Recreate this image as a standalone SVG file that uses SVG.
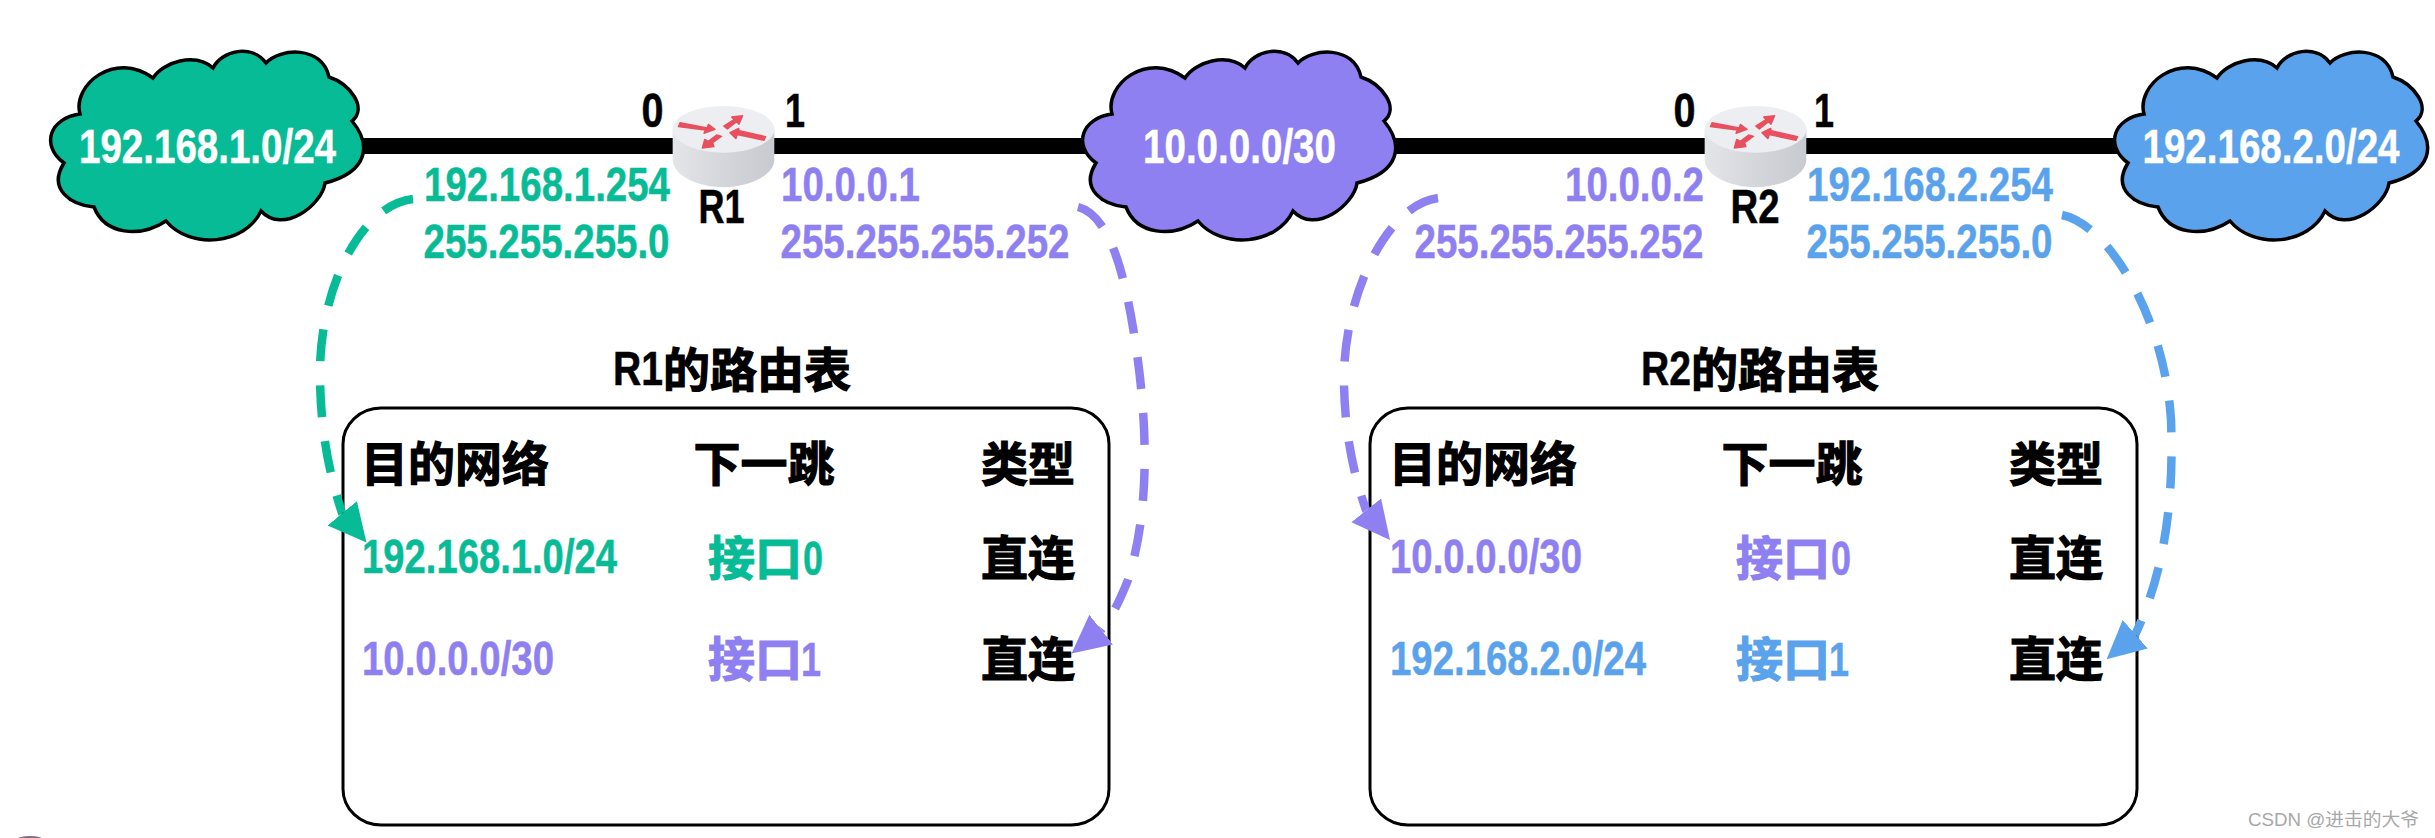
<svg xmlns="http://www.w3.org/2000/svg" xmlns:xlink="http://www.w3.org/1999/xlink" width="2435" height="838" viewBox="0 0 2435 838">
<style>
text{font-family:"Liberation Sans","Noto Sans CJK SC",sans-serif;font-weight:bold;font-size:48px}
.k{fill:#000;stroke:#000}.w{fill:#fff;stroke:#fff}.g{fill:#08bb97;stroke:#08bb97}.p{fill:#8f80f1;stroke:#8f80f1}.b{fill:#5aa3ec;stroke:#5aa3ec}
text{stroke-width:.5}
.c{font-size:47px;stroke-width:1.2}
.cloud{stroke:#000;stroke-width:3.5}
.box{fill:none;stroke:#000;stroke-width:3}
.dash{fill:none;stroke-width:8.5;stroke-dasharray:32 24}
.wm{font-family:"Liberation Sans","Noto Sans CJK SC",sans-serif;font-weight:normal;font-size:18px;fill:#a8a8a8;stroke:none}
.ra{fill:#e8505f;stroke:#e8505f;stroke-width:4;stroke-linejoin:round}
</style>
<defs>
<linearGradient id="side" x1="0" x2="1" y1="0" y2="0">
<stop offset="0" stop-color="#e4e5e8"/><stop offset=".5" stop-color="#d4d6db"/><stop offset="1" stop-color="#c8cad1"/>
</linearGradient>
<path id="cloudShape" d="M153 78C163 62 195 52 213 68C222 50 252 44 266 63C280 48 322 45 329 77C350 84 368 108 352 121C372 145 368 172 325 183C322 205 283 235 261 211C245 245 190 250 166 221C140 238 105 235 94 207C72 205 47 190 64 163C40 145 50 118 80 114C72 85 115 50 153 78Z"/>
<g id="router" transform="translate(620 70) scale(.3333)">
<path fill="url(#side)" d="M158 178V268C158 320 240 352 310 352C380 352 463 320 463 268V178Z"/>
<ellipse cx="310.500" cy="178" rx="152.500" ry="70" fill="#eceef1"/>
<g class="ra">
<polygon points="175,170 180,158 262,174 265,163 285,178 252,190 256,180"/>
<polygon points="311,168 342,149 335,141 368,137 357,163 350,155 322,177"/>
<polygon points="437,200 358,182 356,175 330,188 348,206 352,194 432,211"/>
<polygon points="290,195 305,199 278,218 282,230 247,234 254,208 265,214"/>
</g>
</g>
<marker id="aG1" markerUnits="userSpaceOnUse" markerWidth="40" markerHeight="40" refX="0" refY="20" orient="auto" viewBox="0 0 40 40"><path d="M0 1L38 20L0 39Z" fill="#08bb97"/></marker>
<marker id="aP" markerUnits="userSpaceOnUse" markerWidth="40" markerHeight="40" refX="0" refY="20" orient="auto" viewBox="0 0 40 40"><path d="M0 1L38 20L0 39Z" fill="#8f80f1"/></marker>
<marker id="aB" markerUnits="userSpaceOnUse" markerWidth="40" markerHeight="40" refX="0" refY="20" orient="auto" viewBox="0 0 40 40"><path d="M0 1L38 20L0 39Z" fill="#5aa3ec"/></marker>
</defs>
<rect width="2435" height="838" fill="#fff"/>
<ellipse cx="30" cy="840" rx="14" ry="4" fill="#8a6a80"/>

<g id="links"><line x1="340" y1="146" x2="2140" y2="146" stroke="#000" stroke-width="16"/></g>

<g id="cloud-1"><use xlink:href="#cloudShape" href="#cloudShape" class="cloud" fill="#08bb97"/>
<text class="w" x="79" y="163" textLength="257" lengthAdjust="spacingAndGlyphs">192.168.1.0/24</text></g>
<g id="cloud-2"><use xlink:href="#cloudShape" href="#cloudShape" transform="translate(1032 0)" class="cloud" fill="#8f80f1"/>
<text class="w" x="1143" y="163" textLength="193" lengthAdjust="spacingAndGlyphs">10.0.0.0/30</text></g>
<g id="cloud-3"><use xlink:href="#cloudShape" href="#cloudShape" transform="translate(2064 0)" class="cloud" fill="#5aa3ec"/>
<text class="w" x="2142.500" y="163" textLength="257" lengthAdjust="spacingAndGlyphs">192.168.2.0/24</text></g>

<g id="router-R1"><use xlink:href="#router" href="#router"/>
<text class="k" x="641.500" y="127" textLength="22" lengthAdjust="spacingAndGlyphs">0</text>
<text class="k" x="785" y="127" textLength="20" lengthAdjust="spacingAndGlyphs">1</text>
<text class="k" x="698.500" y="223" textLength="46" lengthAdjust="spacingAndGlyphs">R1</text>
<text class="g" x="424" y="201" textLength="246" lengthAdjust="spacingAndGlyphs">192.168.1.254</text>
<text class="g" x="423.500" y="258" textLength="246" lengthAdjust="spacingAndGlyphs">255.255.255.0</text>
<text class="p" x="781" y="201" textLength="139" lengthAdjust="spacingAndGlyphs">10.0.0.1</text>
<text class="p" x="780.500" y="258" textLength="289" lengthAdjust="spacingAndGlyphs">255.255.255.252</text>
</g>
<g id="router-R2"><use xlink:href="#router" href="#router" transform="translate(1032 0)"/>
<text class="k" x="1673.500" y="127" textLength="22" lengthAdjust="spacingAndGlyphs">0</text>
<text class="k" x="1814" y="127" textLength="20" lengthAdjust="spacingAndGlyphs">1</text>
<text class="k" x="1730.500" y="223" textLength="49" lengthAdjust="spacingAndGlyphs">R2</text>
<text class="p" x="1565" y="201" textLength="139" lengthAdjust="spacingAndGlyphs">10.0.0.2</text>
<text class="p" x="1414.500" y="258" textLength="289" lengthAdjust="spacingAndGlyphs">255.255.255.252</text>
<text class="b" x="1807" y="201" textLength="246" lengthAdjust="spacingAndGlyphs">192.168.2.254</text>
<text class="b" x="1806.500" y="258" textLength="246" lengthAdjust="spacingAndGlyphs">255.255.255.0</text>
</g>

<g id="table-R1">
<text class="k"><tspan x="613" y="385" textLength="50" lengthAdjust="spacingAndGlyphs">R1</tspan><tspan class="c" x="663" y="387">的路由表</tspan></text>
<rect class="box" x="343" y="408" width="766" height="417" rx="38" ry="36"/>
<text class="k c" x="361" y="481">目的网络</text>
<text class="k c" x="693.500" y="481">下一跳</text>
<text class="k c" x="981" y="481">类型</text>
<text class="g" x="362" y="573" textLength="255" lengthAdjust="spacingAndGlyphs">192.168.1.0/24</text>
<text class="g" y="575"><tspan class="c" x="708">接口</tspan><tspan x="803" textLength="20" lengthAdjust="spacingAndGlyphs">0</tspan></text>
<text class="k c" x="981" y="575">直连</text>
<text class="p" x="362" y="675" textLength="192" lengthAdjust="spacingAndGlyphs">10.0.0.0/30</text>
<text class="p" y="676"><tspan class="c" x="708">接口</tspan><tspan x="801" textLength="20" lengthAdjust="spacingAndGlyphs">1</tspan></text>
<text class="k c" x="981" y="676">直连</text>
</g>
<g id="table-R2">
<text class="k"><tspan x="1641" y="385" textLength="50" lengthAdjust="spacingAndGlyphs">R2</tspan><tspan class="c" x="1691" y="387">的路由表</tspan></text>
<rect class="box" x="1370" y="408" width="767" height="417" rx="38" ry="36"/>
<text class="k c" x="1389" y="481">目的网络</text>
<text class="k c" x="1721.500" y="481">下一跳</text>
<text class="k c" x="2009" y="481">类型</text>
<text class="p" x="1390" y="573" textLength="192" lengthAdjust="spacingAndGlyphs">10.0.0.0/30</text>
<text class="p" y="575"><tspan class="c" x="1736">接口</tspan><tspan x="1831" textLength="20" lengthAdjust="spacingAndGlyphs">0</tspan></text>
<text class="k c" x="2009" y="575">直连</text>
<text class="b" x="1390" y="675" textLength="256" lengthAdjust="spacingAndGlyphs">192.168.2.0/24</text>
<text class="b" y="676"><tspan class="c" x="1736">接口</tspan><tspan x="1829" textLength="20" lengthAdjust="spacingAndGlyphs">1</tspan></text>
<text class="k c" x="2009" y="676">直连</text>
</g>

<g id="connectors">
<path class="dash" stroke="#08bb97" marker-end="url(#aG1)" d="M413 199C360 205 318 290 320 380C321 430 328 470 342 513l.24 .29"/>
<path class="dash" stroke="#8f80f1" marker-end="url(#aP)" d="M1078 207C1110 215 1125 275 1135 340C1148 425 1150 510 1128 580C1120 600 1112 617 1101.500 629.500l-.295 .235"/>
<path class="dash" stroke="#8f80f1" marker-end="url(#aP)" d="M1438 198C1385 205 1342 300 1344 385C1345 430 1352 470 1366 510l.24 .3"/>
<path class="dash" stroke="#5aa3ec" marker-end="url(#aB)" d="M2062 215C2110 225 2165 320 2171 420C2174 500 2165 570 2135.500 634l-.285 .25"/>
</g>

<text id="watermark" class="wm" x="2248" y="826" textLength="171" lengthAdjust="spacingAndGlyphs">CSDN @进击的大爷</text>
</svg>
